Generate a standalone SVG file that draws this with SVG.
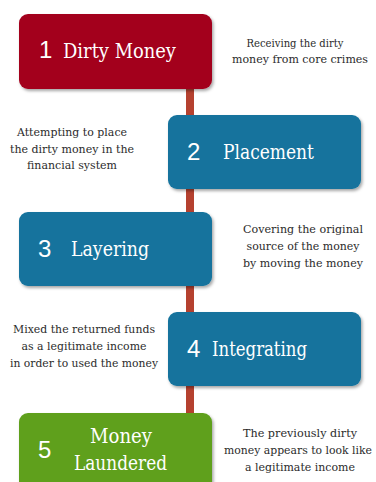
<svg xmlns="http://www.w3.org/2000/svg" width="376" height="482" viewBox="0 0 376 482">
<defs>
<filter id="sh" x="-10%" y="-10%" width="125%" height="130%">
<feDropShadow dx="1.5" dy="2" stdDeviation="1.5" flood-color="#000" flood-opacity="0.35"/>
</filter>
</defs>
<style>
.box{filter:url(#sh)}
.red{fill:#a3001f}
.blue{fill:#13739d}
.green{fill:#5ea01c}
.num{font-size:24px;fill:#fff}
.lbl{font-size:20px;fill:#fff}
.desc{font-size:11.5px;fill:#2b2b2b;text-anchor:middle}
</style>
<rect width="376" height="482" fill="#fff"/>
<g id="connectors">
<line x1="190" y1="85" x2="190" y2="416" stroke="#b5412f" stroke-width="8"/>
</g>
<g id="node1">
<rect class="box red" x="19" y="14" width="193" height="75" rx="9"/>
<text class="num" font-family="Liberation Sans, Arial, sans-serif" x="39" y="58">1</text>
<text class="lbl" font-family="DejaVu Serif, serif" x="63" y="58" textLength="113" lengthAdjust="spacingAndGlyphs">Dirty Money</text>
</g>
<g id="desc1" font-family="DejaVu Serif, serif">
<text class="desc" x="295" y="47" textLength="97" lengthAdjust="spacingAndGlyphs">Receiving the dirty</text>
<text class="desc" x="300" y="63" textLength="136" lengthAdjust="spacingAndGlyphs">money from core crimes</text>
</g>
<g id="node2">
<rect class="box blue" x="168" y="115" width="193" height="74" rx="9"/>
<text class="num" font-family="Liberation Sans, Arial, sans-serif" x="187" y="160">2</text>
<text class="lbl" font-family="DejaVu Serif, serif" x="223" y="159" textLength="91" lengthAdjust="spacingAndGlyphs">Placement</text>
</g>
<g id="desc2" font-family="DejaVu Serif, serif">
<text class="desc" x="72" y="136" textLength="110" lengthAdjust="spacingAndGlyphs">Attempting to place</text>
<text class="desc" x="72" y="153" textLength="124" lengthAdjust="spacingAndGlyphs">the dirty money in the</text>
<text class="desc" x="72" y="169" textLength="90" lengthAdjust="spacingAndGlyphs">financial system</text>
</g>
<g id="node3">
<rect class="box blue" x="19" y="212" width="193" height="74" rx="9"/>
<text class="num" font-family="Liberation Sans, Arial, sans-serif" x="38" y="257">3</text>
<text class="lbl" font-family="DejaVu Serif, serif" x="71" y="256" textLength="78" lengthAdjust="spacingAndGlyphs">Layering</text>
</g>
<g id="desc3" font-family="DejaVu Serif, serif">
<text class="desc" x="303" y="233" textLength="120" lengthAdjust="spacingAndGlyphs">Covering the original</text>
<text class="desc" x="303" y="250" textLength="113" lengthAdjust="spacingAndGlyphs">source of the money</text>
<text class="desc" x="303" y="267" textLength="120" lengthAdjust="spacingAndGlyphs">by moving the money</text>
</g>
<g id="node4">
<rect class="box blue" x="168" y="312" width="193" height="74" rx="9"/>
<text class="num" font-family="Liberation Sans, Arial, sans-serif" x="187" y="357">4</text>
<text class="lbl" font-family="DejaVu Serif, serif" x="212" y="356" textLength="95" lengthAdjust="spacingAndGlyphs">Integrating</text>
</g>
<g id="desc4" font-family="DejaVu Serif, serif">
<text class="desc" x="84" y="333" textLength="142" lengthAdjust="spacingAndGlyphs">Mixed the returned funds</text>
<text class="desc" x="84" y="350" textLength="125" lengthAdjust="spacingAndGlyphs">as a legitimate income</text>
<text class="desc" x="84" y="367" textLength="148" lengthAdjust="spacingAndGlyphs">in order to used the money</text>
</g>
<g id="node5">
<rect class="box green" x="19" y="413" width="193" height="80" rx="9"/>
<text class="num" font-family="Liberation Sans, Arial, sans-serif" x="38" y="458">5</text>
<text class="lbl" font-family="DejaVu Serif, serif" x="90" y="443" textLength="62" lengthAdjust="spacingAndGlyphs">Money</text>
<text class="lbl" font-family="DejaVu Serif, serif" x="74" y="470" textLength="93" lengthAdjust="spacingAndGlyphs">Laundered</text>
</g>
<g id="desc5" font-family="DejaVu Serif, serif">
<text class="desc" x="300" y="437" textLength="114" lengthAdjust="spacingAndGlyphs">The previously dirty</text>
<text class="desc" x="298" y="454" textLength="148" lengthAdjust="spacingAndGlyphs" style="font-size:11px">money appears to look like</text>
<text class="desc" x="300" y="471" textLength="110" lengthAdjust="spacingAndGlyphs">a legitimate income</text>
</g>
</svg>
